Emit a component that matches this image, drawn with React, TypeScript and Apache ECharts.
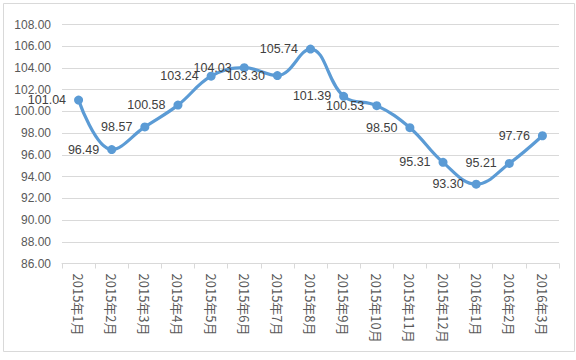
import React, { useEffect, useRef } from "react";
import * as echarts from "echarts";

const categories = [
  "2015年1月", "2015年2月", "2015年3月", "2015年4月", "2015年5月",
  "2015年6月", "2015年7月", "2015年8月", "2015年9月", "2015年10月",
  "2015年11月", "2015年12月", "2016年1月", "2016年2月", "2016年3月",
];
const values = [
  101.04, 96.49, 98.57, 100.58, 103.24, 104.03, 103.3, 105.74, 101.39,
  100.53, 98.5, 95.31, 93.3, 95.21, 97.76,
];
const yMin = 86;
const yMax = 108;
const yStep = 2;

export default function App() {
  const ref = useRef<HTMLDivElement>(null);
  useEffect(() => {
    if (!ref.current) return;
    const chart = echarts.init(ref.current, undefined, { renderer: "svg" });
    chart.setOption({
      animation: false,
      backgroundColor: "#ffffff",
      graphic: [
        {
          type: "rect",
          shape: { x: 3.5, y: 3.5, width: 571, height: 348 },
          style: { fill: "none", stroke: "#d9d9d9", lineWidth: 1 },
          silent: true,
        },
      ],
      grid: { left: 62, right: 17, top: 24.5, bottom: 96.5, containLabel: false },
      xAxis: {
        type: "category",
        data: categories,
        boundaryGap: true,
        axisLine: { lineStyle: { color: "#d9d9d9", width: 1 } },
        axisTick: { show: true, length: 5, lineStyle: { color: "#d9d9d9" } },
        axisLabel: {
          rotate: -90,
          margin: 10,
          color: "#595959",
          fontSize: 13,
          fontFamily: "Noto Sans CJK SC",
          interval: 0,
        },
      },
      yAxis: {
        type: "value",
        min: yMin,
        max: yMax,
        interval: yStep,
        axisLine: { show: false },
        axisTick: { show: false },
        splitLine: { lineStyle: { color: "#d9d9d9", width: 1 } },
        axisLabel: {
          color: "#595959",
          fontSize: 12,
          margin: 11,
          fontFamily: "Liberation Sans",
          formatter: (v: number) => v.toFixed(2),
        },
      },
      series: [
        {
          type: "line",
          data: values,
          smooth: 0.4,
          symbol: "circle",
          symbolSize: 9,
          itemStyle: { color: "#5b9bd5" },
          lineStyle: { color: "#5b9bd5", width: 3.2 },
          label: {
            show: true,
            position: "left",
            distance: 8,
            color: "#404040",
            fontSize: 12.5,
            fontFamily: "Liberation Sans",
            formatter: (p: any) => Number(p.value).toFixed(2),
          },
        },
      ],
    });
    return () => chart.dispose();
  }, []);
  return (
    <div
      ref={ref}
      style={{ position: "fixed", left: 0, top: 0, width: 576, height: 360 }}
    />
  );
}
